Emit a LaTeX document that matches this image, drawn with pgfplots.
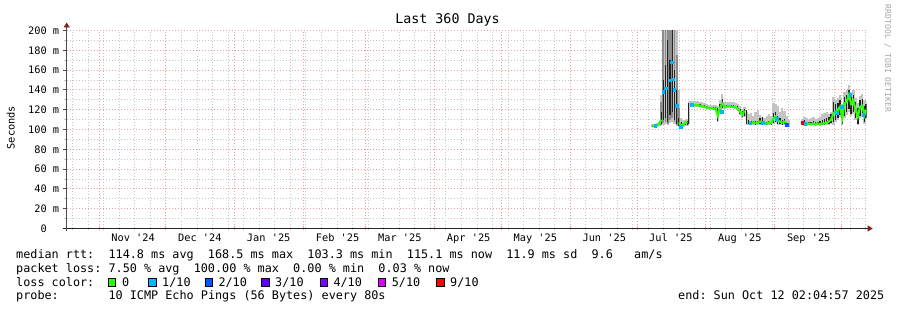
\documentclass[border=0pt]{standalone}
\usepackage{fontspec}
\setmainfont{DejaVu Sans Mono}[Ligatures=TeXOff]
\usepackage{pgfplots}
\pgfplotsset{compat=1.18}
\usepackage{pgfplotstable}
\usetikzlibrary{arrows.meta}

\definecolor{lossA}{HTML}{26FF00}
\definecolor{lossB}{HTML}{00B8FF}
\definecolor{lossC}{HTML}{0059FF}
\definecolor{lossD}{HTML}{5E00FF}
\definecolor{lossE}{HTML}{7E00FF}
\definecolor{lossF}{HTML}{DD00FF}
\definecolor{lossG}{HTML}{FF0000}
\definecolor{mgrid}{RGB}{240,160,160}
\definecolor{mingrid}{RGB}{198,198,198}
\definecolor{arrowred}{RGB}{128,32,32}
\definecolor{smokelight}{RGB}{196,196,196}
\definecolor{smokemid}{RGB}{140,140,140}
\definecolor{smokedark}{RGB}{35,35,35}

\newcommand{\lfont}{\fontsize{11.8}{14}\selectfont}
\newcommand{\afont}{\fontsize{10.3}{12}\selectfont}
\newcommand{\tfont}{\fontsize{13.3}{16}\selectfont}
\newcommand{\wfont}{\fontsize{8.1}{10}\selectfont}

% t = days since 17 Oct 2024; values in ms
\pgfplotstableread{
t     med   lo    hi    dlo   dhi   g
263.5 103.5 102.5 105.5 103   104.5 103.5
264.5 104   103   106   103.5 105   104
265.5 104   103   107   103.5 105   104
266.5 105   103.5 108   104   106.5 105
267.5 110   104   135   106   118   110
268.5 138   105   200   110   150   nan
269.5 142   106   200   112   165   nan
270.5 122   105   200   108   190   nan
271.5 150   107   200   115   170   nan
272.5 168   108   200   118   200   nan
273.5 140   106   200   110   160   nan
274.5 124   104   200   106   140   nan
275.5 107   103   140   104   112   107
276.5 104   101.5 112   102.5 108   104
277.5 105   103   110   104   107   105
278.5 107   104   110   105   108   107
279.3 108   104   111   105   109   108
280   125   106   129   106   127   nan
281   125   123   129   124   126.5 125
282   125   123   129   124   126.5 125
283   124.5 123   128.5 123.5 126   124.5
284   124.5 123   128.5 123.5 126   124.5
285   124   122.5 128   123   125.5 124
286   123.5 122   127.5 122.5 125   123.5
287   123   121.5 127   122   124.5 123
288   122   121   126   121.5 123.5 122
289   121.5 120.5 125   121   123   121.5
290   121.5 120.5 125   121   123   121.5
291   121   120   124.5 120.5 122.5 121
292   121   119.5 124.5 120   122.5 121
293   114   108   124   109   122   114
294   122   117   130   118   126   122
295   126   121   136   122   131   126
296   123   121   128   122   125   123
297   123   121.5 128   122   125   123
298   123.5 122   128   122.5 125   123.5
299   123   121.5 127.5 122   125   123
300   123   121.5 127.5 122   124.5 123
301   122.5 121   127   121.5 124   122.5
302   121   119   126   120   123.5 121
303   118   115   124   116   121   118
304   115   112   121   113   119   115
305   119   113   123   114   121   119
306   110   105   118   106   120   nan
307   107   105   116   105.5 110   107
308   106.5 104.5 117   105   109   106.5
309   107   105   114   105.5 109   107
310   106.5 104.5 118   105   108.5 106.5
311   107   105   120   105.5 109   107
312   108   105   115   106   112   108
313   107   105   113   106   113   107
314   106.5 104.5 112   105   108   106.5
315   106   104.5 114   105   108   106
316   107   105   116   105.5 109   107
317   106.5 104.5 114   105   108.5 106.5
318   111   106   127   107   117   111
319   113   107   126   108   118   113
320   109   105   124   106   114   109
321   108   105   118   106   112   108
322   107   104.5 122   105   110   107
323   108   105   119   105.5 111   108
324   106   104   114   104.5 108   106
324.8 104.5 103   110   103.5 106   104.5
}\segA

\pgfplotstableread{
t     med   lo    hi    dlo   dhi   g
331   107   105   111   105.5 109   107
332   106   104.5 113   105   110   106
333   105.5 104   112   104.5 108   105.5
334   106   104.5 111   105   108   106
335   105.5 104   112   104.5 108   105.5
336   106   104.5 113   105   108.5 106
337   105.5 104   111   104.5 108   105.5
338   106   104.5 112   105   108   106
339   105.5 104   113   104.5 109   105.5
340   106   104.5 116   105   110   106
341   106   104.5 117   105   111   106
342   107   105   118   105.5 112   107
343   108   105   116   106   113   108
344   110   106   118   107   116   110
345   116   104.5 133   108   128   116
346   118   108   130   110   126   118
347   120   110   132   112   127   120
348   123   113   135   115   130   123
349   112   104.5 126   106   120   112
350   126   112   138   114   133   126
351   128   115   140   118   135   128
352   135   118   145   121   140   135
353   126   114   138   116   133   126
354   129   116   140   118   135   129
355   120   110   132   112   128   120
356   113   105   127   106   122   113
357   123   112   134   114   130   123
358   124   113   136   115   131   124
359   115   106   130   108   124   115
359.7 120   110   129   112   126   120
}\segB

% middle grey layer of the smoke in the July burst
\pgfplotstableread{
t     mlo  mhi
267.5 105  128
268.5 107  200
269.5 108  200
270.5 106  200
271.5 110  200
272.5 112  200
273.5 108  200
274.5 105  175
275.5 104  122
}\burst

\pgfplotstableread{
t     v
264.8 104
268.5 138
269.5 142
271.5 150
272.2 168
272.8 151
273.5 140
274.5 124
276.3 103
281.3 125
294.8 118
307.5 106.5
313.2 107
319.5 111
332.3 106
346.5 117
348.8 123
352.5 135
358.5 115
}\lossone

\pgfplotstableread{
t   v
324 105
}\losstwo

\pgfplotstableread{
t   v
331 107
}\lossnine

\begin{document}
\begin{tikzpicture}[x=1pt,y=1pt]
\useasboundingbox (0,0) rectangle (897,310);
\begin{axis}[
  at={(66.7pt,81.5pt)}, anchor=south west,
  scale only axis, width=800pt, height=198pt,
  xmin=0, xmax=360, ymin=0, ymax=200,
  axis x line=bottom, axis y line=left,
  x axis line style={draw=black!85, line width=0.8pt, shorten <=-4pt, shorten >=-6pt,
    -{Triangle[length=5pt,width=6pt,color=arrowred,fill=arrowred]}},
  y axis line style={draw=black!70, line width=0.8pt, shorten <=-3pt, shorten >=-8pt,
    -{Triangle[length=5pt,width=6pt,color=arrowred,fill=arrowred]}},
  xtick={14.6,44.6,75.6,106.6,134.6,165.6,195.6,226.6,256.6,287.6,318.6,348.6},
  xticklabels={Nov '24,Dec '24,Jan '25,Feb '25,Mar '25,Apr '25,May '25,Jun '25,Jul '25,Aug '25,Sep '25,{}},
  minor xtick={2.6,9.6,...,359.6},
  ytick={0,20,...,200},
  yticklabels={0\hphantom{~m},20~m,40~m,60~m,80~m,100~m,120~m,140~m,160~m,180~m,200~m},
  minor ytick={10,30,...,190},
  xticklabel style={font=\afont, xshift=34pt},
  yticklabel style={font=\afont},
  grid=both,
  major grid style={mgrid, line width=0.8pt, dash pattern=on 1pt off 2pt},
  minor grid style={mingrid, line width=0.8pt, dash pattern=on 1pt off 2pt},
  xtick align=center, ytick align=outside,
  major tick length=4pt, minor tick length=3pt,
  every major x tick/.append style={mgrid, line width=0.8pt},
  every minor x tick/.append style={mingrid, line width=0.8pt},
  every major y tick/.append style={black!70, line width=0.8pt},
  every minor y tick/.append style={mingrid, line width=0.8pt},
]
% light smoke (min..max), one vertical stroke per day
\addplot[forget plot, mark=none, smokelight, line width=2.4pt, -,
  quiver={u=0, v=\thisrow{hi}-\thisrow{lo}}]
  table[x=t, y=lo] {\segA};
\addplot[forget plot, mark=none, smokelight, line width=2.4pt, -,
  quiver={u=0, v=\thisrow{hi}-\thisrow{lo}}]
  table[x=t, y=lo] {\segB};
% middle grey in the burst
\addplot[forget plot, mark=none, smokemid, line width=1.8pt, -,
  quiver={u=0, v=\thisrow{mhi}-\thisrow{mlo}}]
  table[x=t, y=mlo] {\burst};
% dark smoke core
\addplot[forget plot, mark=none, smokedark, line width=1.1pt, -,
  quiver={u=0, v=\thisrow{dhi}-\thisrow{dlo}}]
  table[x=t, y=dlo] {\segA};
\addplot[forget plot, mark=none, smokedark, line width=1.5pt, -,
  quiver={u=0, v=\thisrow{dhi}-\thisrow{dlo}}]
  table[x=t, y=dlo] {\segB};
% median, loss 0
\addplot[lossA, line width=2.2pt, mark=none, unbounded coords=jump] table[x=t, y=g] {\segA};
\addplot[lossA, line width=2.2pt, mark=none, unbounded coords=jump] table[x=t, y=g] {\segB};
% median points with loss
\addplot[only marks, mark=square*, mark size=1.2pt, color=lossB] table[x=t, y=v] {\lossone};
\addplot[only marks, mark=square*, mark size=1.2pt, color=lossC] table[x=t, y=v] {\losstwo};
\addplot[only marks, mark=square*, mark size=1.2pt, color=lossG] table[x=t, y=v] {\lossnine};
\end{axis}

\node[font=\tfont, anchor=base, inner sep=0pt] at (447.5,286) {Last 360 Days};
\node[font=\afont, rotate=90, inner sep=0pt] at (10.8,182.3) {Seconds};
\node[font=\wfont, rotate=-90, text=black!35, inner sep=0pt] at (887.8,251.5) {RRDTOOL / TOBI OETIKER};

\node[font=\lfont, anchor=base west, inner sep=0pt] at (16,51)
  {median~rtt:~~114.8~ms~avg~~168.5~ms~max~~103.3~ms~min~~115.1~ms~now~~11.9~ms~sd~~9.6~~~am/s};
\node[font=\lfont, anchor=base west, inner sep=0pt] at (16,37.4)
  {packet~loss:~7.50~\%~avg~~100.00~\%~max~~0.00~\%~min~~0.03~\%~now};
\node[font=\lfont, anchor=base west, inner sep=0pt] at (16,23.7) {loss~color:};
\foreach \bx/\col/\lab in {108.5/lossA/0, 148.7/lossB/1\slash10, 205/lossC/2\slash10, 261.7/lossD/3\slash10, 320/lossE/4\slash10, 378.3/lossF/5\slash10, 436.7/lossG/9\slash10}{
  \draw[fill=\col, draw=black, line width=0.7pt] (\bx,23.9) rectangle ++(7.2,7.8);
  \node[font=\lfont, anchor=base west, inner sep=0pt] at (\bx+13.3,23.7) {\lab};
}
\node[font=\lfont, anchor=base west, inner sep=0pt] at (16,10)
  {probe:~~~~~~~10~ICMP~Echo~Pings~(56~Bytes)~every~80s};
\node[font=\lfont, anchor=base west, inner sep=0pt] at (678,10)
  {end:~Sun~Oct~12~02:04:57~2025};
\end{tikzpicture}
\end{document}
